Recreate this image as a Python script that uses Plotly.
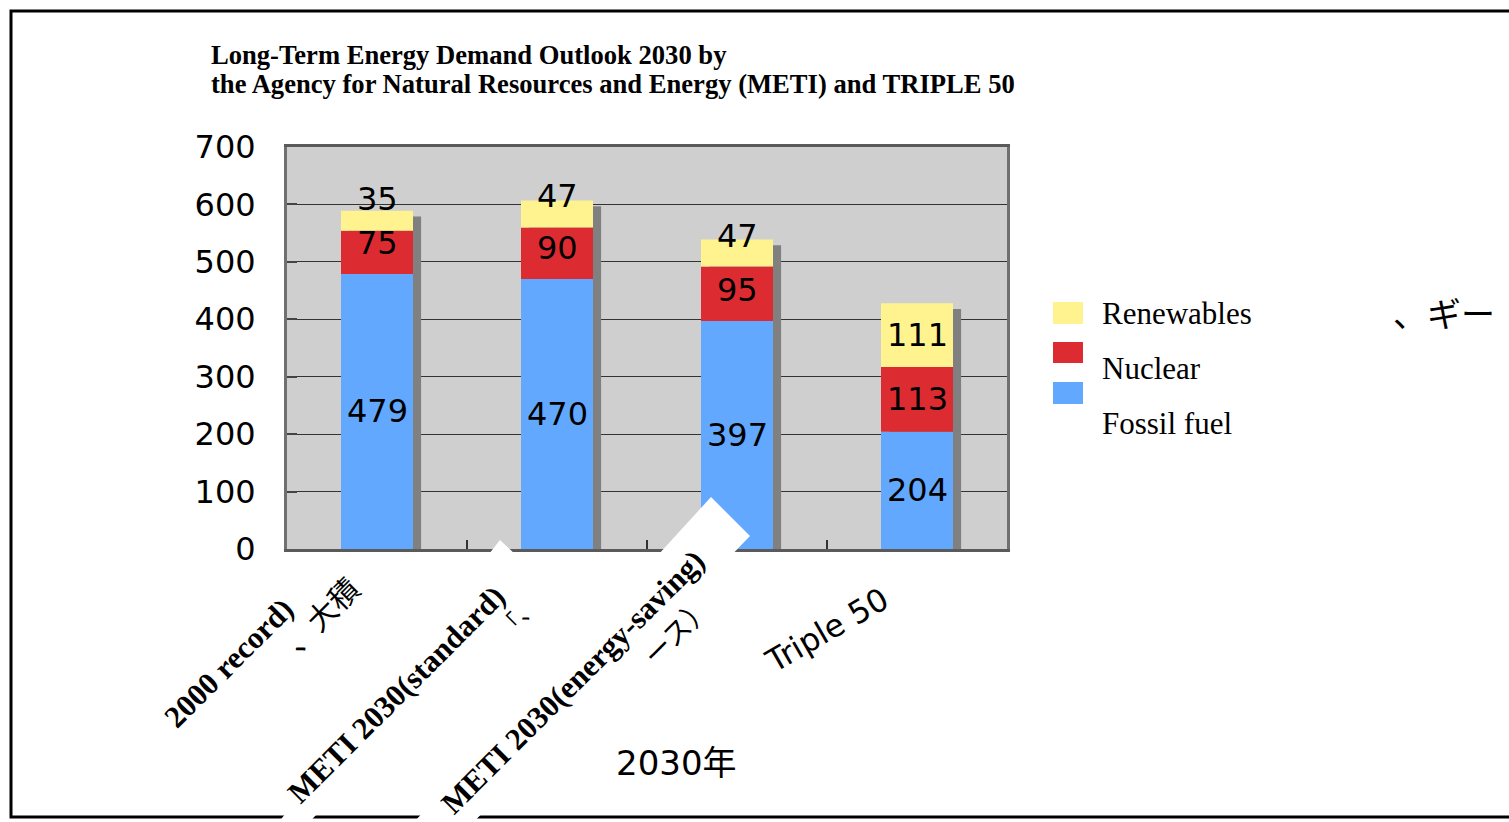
import plotly.graph_objects as go

# ---- data -------------------------------------------------------------
categories = ["2000 record)", "METI 2030(standard)", "METI 2030(energy-saving)", "Triple 50"]
fossil = [479, 470, 397, 204]
nuclear = [75, 90, 95, 113]
renewables = [35, 47, 47, 111]
y_ticks = [0, 100, 200, 300, 400, 500, 600, 700]

series_names = ["Renewables", "Nuclear", "Fossil fuel"]
title_lines = [
    "Long-Term Energy Demand Outlook 2030 by",
    "the Agency for Natural Resources and Energy (METI) and TRIPLE 50",
]
x_title = "2030年"

# ---- style ------------------------------------------------------------
C_FOSSIL = "#63A8FF"
C_NUCLEAR = "#DD2B32"
C_RENEW = "#FFF38F"
C_SHADOW = "#808080"
C_PLOT = "#CFCFCF"

W, H = 1509, 822
PL, PR, PT, PB = 287, 1007, 147, 549   # plot area in pixels


def px(x):
    return (x - PL) / (PR - PL)


def py(y):
    return (PB - y) / (PB - PT)


SANS = "DejaVu Sans, Noto Sans CJK JP"
SERIF = "Liberation Serif, Times New Roman, serif"
CJK = "Noto Sans CJK JP"

bar_w = 0.4
shadow_dx = 0.045      # shadow shift to the right (category units)
shadow_drop = 10       # shadow top sits a little lower (data units)

base_nuc = fossil
base_ren = [f + n for f, n in zip(fossil, nuclear)]
totals = [b + r for b, r in zip(base_ren, renewables)]

fig = go.Figure()

# drop shadow behind every stacked column
fig.add_trace(go.Bar(
    x=categories, y=[t - shadow_drop for t in totals], base=0,
    width=bar_w, offset=-bar_w / 2 + shadow_dx,
    marker=dict(color=C_SHADOW, line=dict(width=0)), hoverinfo="skip",
))
fig.add_trace(go.Bar(
    x=categories, y=fossil, base=0, width=bar_w, offset=-bar_w / 2,
    marker=dict(color=C_FOSSIL, line=dict(width=0)), name=series_names[2],
))
fig.add_trace(go.Bar(
    x=categories, y=nuclear, base=base_nuc, width=bar_w, offset=-bar_w / 2,
    marker=dict(color=C_NUCLEAR, line=dict(width=0)), name=series_names[1],
))
fig.add_trace(go.Bar(
    x=categories, y=renewables, base=base_ren, width=bar_w, offset=-bar_w / 2,
    marker=dict(color=C_RENEW, line=dict(width=0)), name=series_names[0],
))

annotations = []

# value labels (small top segments have their label lifted a bit)
lift_ren = [22, 18, 17, 0]
lift_nuc = [9, 5, 4, 0]
for i, c in enumerate(categories):
    for val, base, lift in (
        (fossil[i], 0, 0),
        (nuclear[i], base_nuc[i], lift_nuc[i]),
        (renewables[i], base_ren[i], lift_ren[i]),
    ):
        annotations.append(dict(
            x=c, y=base + val / 2, xref="x", yref="y", text=str(val),
            showarrow=False, yshift=lift, xanchor="center", yanchor="middle",
            font=dict(family=SANS, size=32, color="black"),
        ))

# title
for txt, yc in zip(title_lines, [55, 84]):
    annotations.append(dict(
        x=px(209), y=py(yc), xref="paper", yref="paper", text="<b>%s</b>" % txt,
        showarrow=False, xanchor="left", yanchor="middle",
        font=dict(family=SERIF, size=26.6, color="black"),
    ))

# rotated category labels
cat_pos = [(228, 663, -45), (396, 694, -45), (572, 682, -45), (827, 630, -30)]
for i, (c, (cx, cy, ang)) in enumerate(zip(categories, cat_pos)):
    if i < 3:
        txt = "<b>%s</b>" % c
        fnt = dict(family=SERIF, size=31, color="black")
    else:
        txt = c
        fnt = dict(family=SANS, size=31.5, color="black")
    annotations.append(dict(
        x=px(cx), y=py(cy), xref="paper", yref="paper", text=txt,
        showarrow=False, textangle=ang, xanchor="center", yanchor="middle",
        font=fnt,
    ))

# remnants of the Japanese captions
for txt, cx, cy, ang, sz in [
    ("、大積", 321, 614, -45, 30),
    ("「、", 517, 616, -45, 22),
    ("ース）", 676, 630, -45, 28),
]:
    annotations.append(dict(
        x=px(cx), y=py(cy), xref="paper", yref="paper", text=txt,
        showarrow=False, textangle=ang, xanchor="center", yanchor="middle",
        font=dict(family=CJK, size=sz, color="black"),
    ))
annotations.append(dict(
    x=px(1497), y=py(312), xref="paper", yref="paper", text="、ギー",
    showarrow=False, xanchor="right", yanchor="middle",
    font=dict(family=CJK, size=34, color="black"),
))

# x-axis caption
annotations.append(dict(
    x=px(676), y=py(763), xref="paper", yref="paper", text=x_title,
    showarrow=False, xanchor="center", yanchor="middle",
    font=dict(family=SANS, size=34, color="black"),
))

# legend (hand placed)
shapes = []
swatches = [(C_RENEW, 302, 324), (C_NUCLEAR, 342, 363), (C_FOSSIL, 382, 404)]
for col, y0, y1 in swatches:
    shapes.append(dict(
        type="rect", xref="paper", yref="paper",
        x0=px(1053), x1=px(1083), y0=py(y1), y1=py(y0),
        fillcolor=col, line=dict(width=0), layer="above",
    ))
for name, yc in zip(series_names, [313, 368, 423]):
    annotations.append(dict(
        x=px(1100), y=py(yc), xref="paper", yref="paper", text=name,
        showarrow=False, xanchor="left", yanchor="middle",
        font=dict(family=SERIF, size=31, color="black"),
    ))

# slide frame
shapes.append(dict(
    type="rect", xref="paper", yref="paper",
    x0=px(11), x1=px(1530), y0=py(817), y1=py(11),
    line=dict(color="black", width=3), fillcolor="rgba(0,0,0,0)", layer="above",
))


def poly(points):
    d = "M " + " L ".join("%f,%f" % (px(x), py(y)) for x, y in points) + " Z"
    return dict(type="path", xref="paper", yref="paper", path=d,
                fillcolor="white", line=dict(width=0), layer="above")


# white caption boxes lying over the chart
shapes.append(poly([(500, 540), (540, 578), (300, 832), (271, 832)]))
shapes.append(poly([(711, 497), (750, 536), (464, 832), (405, 832)]))

fig.update_layout(
    width=W, height=H,
    margin=dict(l=PL, r=W - PR, t=PT, b=H - PB, pad=0),
    paper_bgcolor="white", plot_bgcolor=C_PLOT,
    barmode="overlay", showlegend=False,
    annotations=annotations, shapes=shapes,
    xaxis=dict(
        type="category", categoryorder="array", categoryarray=categories,
        showticklabels=False, showgrid=False, zeroline=False,
        ticks="inside", tickson="boundaries", ticklen=9, tickwidth=1.5,
        tickcolor="#333333", showline=True, linecolor="#5a5a5a", linewidth=3,
        mirror=True, range=[-0.5, 3.5], fixedrange=True,
    ),
    yaxis=dict(
        range=[0, 700], tickvals=y_ticks, ticktext=[str(v) for v in y_ticks],
        showgrid=True, gridcolor="#333333", gridwidth=1, zeroline=False,
        ticks="inside", ticklen=10, tickwidth=2, tickcolor="#444444",
        showline=True, linecolor="#707070", linewidth=3, mirror=True,
        tickfont=dict(family=SANS, size=32, color="black"),
        ticklabelstandoff=22, fixedrange=True,
    ),
)

fig.write_html("out.html")
